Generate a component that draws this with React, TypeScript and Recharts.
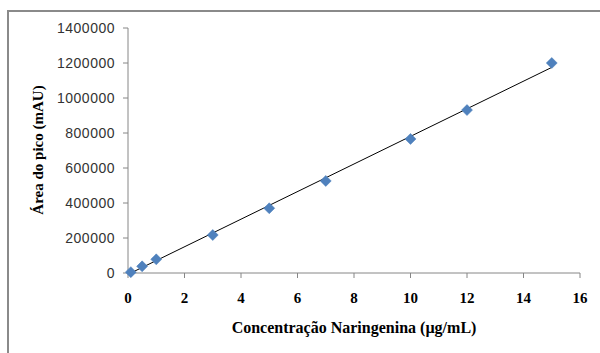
import { ScatterChart, Scatter, XAxis, YAxis, ReferenceLine, Label } from 'recharts';

// Calibration points: concentration (µg/mL) vs. peak area (mAU)
const concentracao = [0.1, 0.5, 1, 3, 5, 7, 10, 12, 15];
const area = [5000, 38000, 78000, 217000, 370000, 526000, 766000, 931000, 1200000];

// Linear trendline end points
const trendX = [0.1, 15];
const trendY = [0, 1175000];

const xTicks = [0, 2, 4, 6, 8, 10, 12, 14, 16];
const yTicks = [0, 200000, 400000, 600000, 800000, 1000000, 1200000, 1400000];

const data = concentracao.map((x, i) => ({ x, y: area[i] }));

const AXIS = '#868686';
const SERIF = '"Liberation Serif", "Times New Roman", serif';
const SANS = '"Liberation Sans", Arial, sans-serif';

function Diamond(props: { cx?: number; cy?: number }) {
  const { cx = 0, cy = 0 } = props;
  const r = 5.5;
  return (
    <path
      d={`M${cx},${cy - r} L${cx + r},${cy} L${cx},${cy + r} L${cx - r},${cy} Z`}
      fill="#4F81BD"
      stroke="#4A7EBB"
      strokeWidth={0.5}
    />
  );
}

export default function App() {
  return (
    <div style={{ position: 'absolute', left: 0, top: 0, width: 600, height: 353, background: '#fff', overflow: 'hidden' }}>
      <div
        style={{
          position: 'absolute',
          left: 7,
          top: 10,
          width: 700,
          height: 500,
          borderLeft: '2px solid #8a8a8a',
          borderTop: '2px solid #8a8a8a',
        }}
      />
      <div style={{ position: 'absolute', left: 0, top: 0 }}>
        <ScatterChart width={600} height={353} margin={{ top: 28, right: 20, left: 0, bottom: 50 }}>
          <XAxis
            type="number"
            dataKey="x"
            domain={[0, 16]}
            ticks={xTicks}
            interval={0}
            stroke={AXIS}
            tickSize={5}
            tickMargin={14}
            tick={{ fill: '#000', fontSize: 15, fontFamily: SERIF, fontWeight: 'bold' }}
          >
            <Label
              value="Concentração Naringenina (µg/mL)"
              position="bottom"
              offset={19}
              style={{ fill: '#000', fontSize: 16, fontFamily: SERIF, fontWeight: 'bold' }}
            />
          </XAxis>
          <YAxis
            type="number"
            dataKey="y"
            width={128}
            domain={[0, 1400000]}
            ticks={yTicks}
            interval={0}
            stroke={AXIS}
            tickSize={5}
            tickMargin={8}
            tick={{ fill: '#333', fontSize: 14, fontFamily: SANS, letterSpacing: 0.5 }}
          >
            <Label
              content={() => (
                <text
                  x={38}
                  y={150}
                  transform="rotate(-90 38 150)"
                  textAnchor="middle"
                  dominantBaseline="central"
                  fill="#000"
                  fontSize={15}
                  fontFamily={SERIF}
                  fontWeight="bold"
                >
                  Área do pico (mAU)
                </text>
              )}
            />
          </YAxis>
          <ReferenceLine
            segment={[
              { x: trendX[0], y: trendY[0] },
              { x: trendX[1], y: trendY[1] },
            ]}
            stroke="#000"
            strokeWidth={1}
            ifOverflow="extendDomain"
          />
          <Scatter data={data} shape={Diamond} isAnimationActive={false} />
        </ScatterChart>
      </div>
    </div>
  );
}
